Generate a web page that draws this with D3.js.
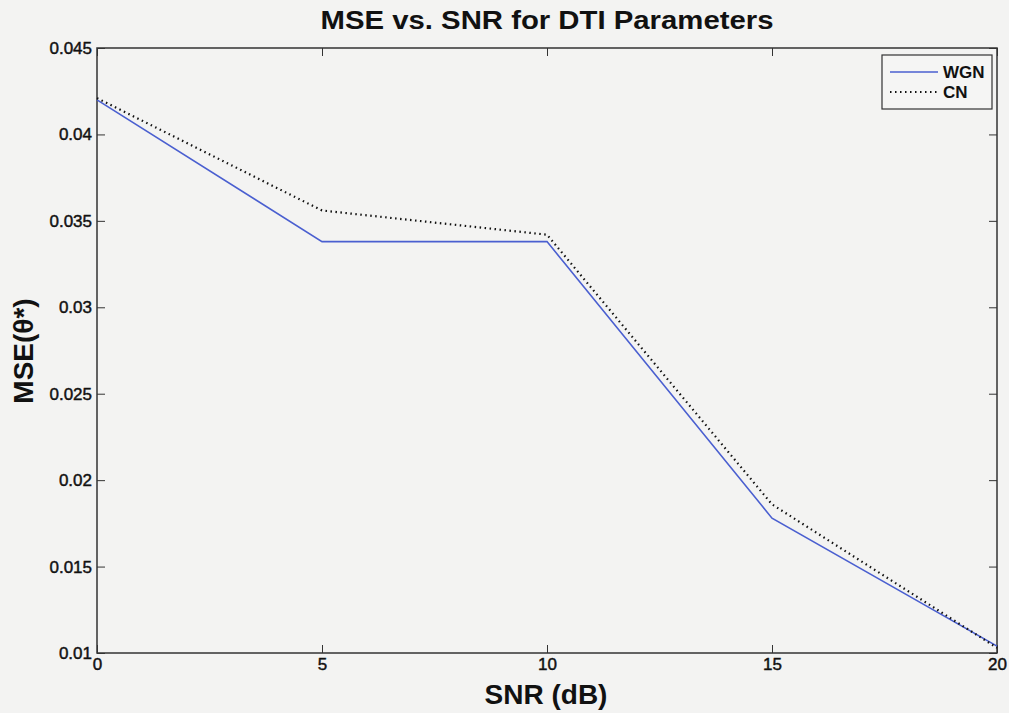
<!DOCTYPE html>
<html>
<head>
<meta charset="utf-8">
<script src="https://cdn.jsdelivr.net/npm/d3@7"></script>
<style>
  body { margin: 0; background: #f3f3f2; }
  svg { font-family: "Liberation Sans", Arial, sans-serif; }
</style>
</head>
<body>
<div id="chart"></div>
<script>
// data
var snr = [0, 5, 10, 15, 20];
var wgn = [0.0420, 0.0338, 0.0338, 0.0178, 0.0104];
var cn = [0.0421, 0.0356, 0.0342, 0.0186, 0.0103];
var xTicks = [0, 5, 10, 15, 20];
var yTicks = [0.01, 0.015, 0.02, 0.025, 0.03, 0.035, 0.04, 0.045];
var seriesNames = ["WGN", "CN"];

var W = 1009, H = 713;
var margin = {top: 48, right: 12, bottom: 60, left: 97};
var width = W - margin.left - margin.right,
    height = H - margin.top - margin.bottom;

var x = d3.scaleLinear().domain([0, 20]).range([0, width]);
var y = d3.scaleLinear().domain([0.01, 0.045]).range([height, 0]);

var svg = d3.select("#chart").append("svg")
  .attr("width", W)
  .attr("height", H);

var g = svg.append("g")
  .attr("transform", "translate(" + margin.left + "," + margin.top + ")");

//box
g.append("rect")
  .attr("width", width).attr("height", height)
  .attr("fill", "none").attr("stroke", "#333").attr("stroke-width", 1.5);

// ticks on all sides, pointing inwards
var tickLen = 8;
function yFmt(d) { return String(+d.toFixed(3)); }

var axBottom = g.append("g")
  .attr("transform", "translate(0," + height + ")")
  .call(d3.axisBottom(x).tickValues(xTicks).tickSizeInner(-tickLen).tickSizeOuter(0).tickPadding(5));
var axTop = g.append("g")
  .call(d3.axisTop(x).tickValues(xTicks).tickSizeInner(-tickLen).tickSizeOuter(0).tickFormat(""));
var axLeft = g.append("g")
  .call(d3.axisLeft(y).tickValues(yTicks).tickSizeInner(-tickLen).tickSizeOuter(0).tickPadding(5).tickFormat(yFmt));
var axRight = g.append("g")
  .attr("transform", "translate(" + width + ",0)")
  .call(d3.axisRight(y).tickValues(yTicks).tickSizeInner(-tickLen).tickSizeOuter(0).tickFormat(""));

[axBottom, axTop, axLeft, axRight].forEach(function(a) {
  a.select(".domain").remove();
  a.selectAll("line").attr("stroke", "#333");
  a.selectAll("text").attr("fill", "#111").attr("font-size", 17)
    .attr("font-family", "Liberation Sans, Arial, sans-serif")
    .attr("stroke", "#111").attr("stroke-width", 0.45);
});

var line = d3.line()
  .x(function(d, i) { return x(snr[i]); })
  .y(function(d) { return y(d); });

g.append("path").datum(wgn)
  .attr("d", line)
  .attr("fill", "none").attr("stroke", "#4a5fd0").attr("stroke-width", 1.6);

g.append("path").datum(cn)
  .attr("d", line)
  .attr("fill", "none").attr("stroke", "#111").attr("stroke-width", 2.2)
  .attr("stroke-dasharray", "1.5,3.5");

// legend
var lg = svg.append("g").attr("transform", "translate(882,55)");
lg.append("rect").attr("width", 110).attr("height", 54)
  .attr("fill", "#f5f5f4").attr("stroke", "#333").attr("stroke-width", 1.2);
lg.append("line").attr("x1", 8).attr("x2", 56).attr("y1", 17).attr("y2", 17)
  .attr("stroke", "#4a5fd0").attr("stroke-width", 1.6);
lg.append("line").attr("x1", 8).attr("x2", 56).attr("y1", 37).attr("y2", 37)
  .attr("stroke", "#111").attr("stroke-width", 2).attr("stroke-dasharray", "1.5,3.5");
lg.selectAll("text.lab").data(seriesNames).enter().append("text")
  .attr("x", 61).attr("y", function(d, i) { return 23 + i * 20; })
  .attr("font-size", 17).attr("font-weight", "bold").attr("fill", "#111")
  .text(function(d) { return d; });

// title + labels
svg.append("text").attr("x", 547).attr("y", 29)
  .attr("text-anchor", "middle").attr("font-size", 25).attr("font-weight", "bold")
  .attr("textLength", 453).attr("lengthAdjust", "spacingAndGlyphs")
  .attr("fill", "#111").text("MSE vs. SNR for DTI Parameters");

svg.append("text").attr("x", 546).attr("y", 704)
  .attr("text-anchor", "middle").attr("font-size", 28).attr("font-weight", "bold")
  .attr("fill", "#111").text("SNR (dB)");

svg.append("text")
  .attr("transform", "translate(33,351) rotate(-90)")
  .attr("text-anchor", "middle").attr("font-size", 28).attr("font-weight", "bold")
  .attr("fill", "#111").text("MSE(θ*)");
</script>
</body>
</html>
